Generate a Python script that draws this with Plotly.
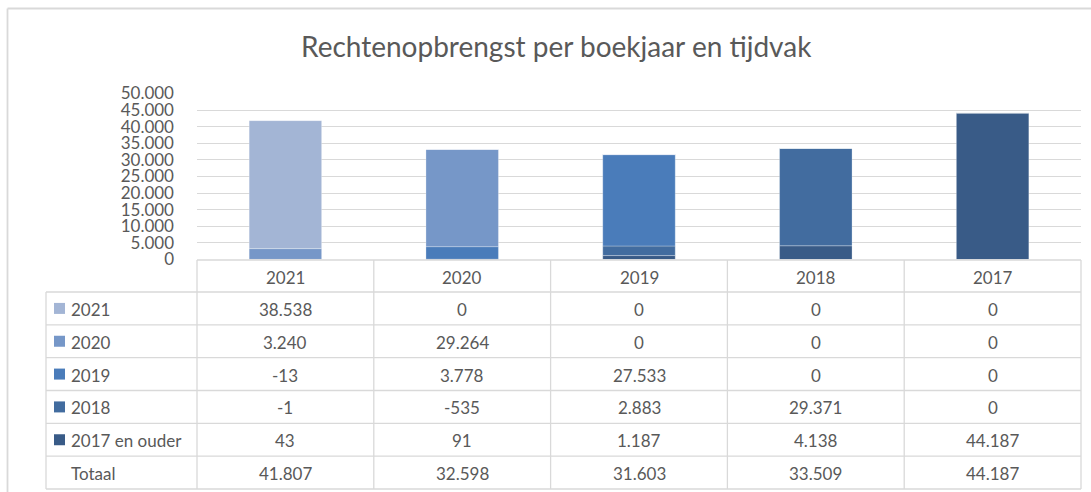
import plotly.graph_objects as go

# ---- data ----
categories = ["2021", "2020", "2019", "2018", "2017"]
series_names = ["2021", "2020", "2019", "2018", "2017 en ouder"]
v_2021 = [38538, 0, 0, 0, 0]
v_2020 = [3240, 29264, 0, 0, 0]
v_2019 = [-13, 3778, 27533, 0, 0]
v_2018 = [-1, -535, 2883, 29371, 0]
v_2017 = [43, 91, 1187, 4138, 44187]
totals = [41807, 32598, 31603, 33509, 44187]
total_label = "Totaal"
title_text = "Rechtenopbrengst per boekjaar en tijdvak"

series_values = [v_2021, v_2020, v_2019, v_2018, v_2017]
colors = ["#A3B5D5", "#7697C8", "#4A7CBA", "#426C9F", "#395B87"]

W, H = 1091, 492
def px(x):
    return x / W
def py(y):
    return 1 - y / H

FONT = "Lato, Calibri, sans-serif"
TXT = "#595959"
GRID = "#D9D9D9"

fig = go.Figure()
# stacking bottom -> top: oldest first
for name, vals, col in reversed(list(zip(series_names, series_values, colors))):
    fig.add_trace(go.Bar(
        x=categories, y=vals, name=name,
        marker=dict(color=col, line=dict(color="rgba(255,255,255,0.35)", width=0.8)),
        showlegend=False,
    ))

x0, x1 = 197, 1081
y_top, y_zero = 93.5, 259.5

fig.update_layout(
    width=W, height=H,
    margin=dict(l=0, r=0, t=0, b=0, pad=0, autoexpand=False),
    paper_bgcolor="white", plot_bgcolor="white",
    barmode="relative", bargap=0.59,
    separators=",.",
    font=dict(family=FONT, color=TXT),
    xaxis=dict(domain=[px(x0), px(x1)], type="category", range=[-0.5, 4.5], automargin=False,
               showticklabels=False, showgrid=False, zeroline=False, showline=False, fixedrange=True),
    yaxis=dict(domain=[py(y_zero), py(y_top)], range=[0, 50000], dtick=5000, tickformat=",d",
               automargin=False,
               showgrid=True, gridcolor=GRID, gridwidth=1.2, zeroline=False, showline=False,
               ticks="", ticklabelstandoff=22, tickfont=dict(size=17, color=TXT, family=FONT)),
)

shapes = []
def line(xa, ya, xb, yb, color=GRID, width=1.3):
    shapes.append(dict(type="line", xref="paper", yref="paper",
                       x0=px(xa), y0=py(ya), x1=px(xb), y1=py(yb),
                       line=dict(color=color, width=width)))

# outer chart border
line(7.5, 8.5, 7.5, H, width=1.8)
line(7.5, 8.5, W, 8.5, width=1.8)

# table geometry
col_w = (x1 - x0) / len(categories)
col_bounds = [x0 + i * col_w for i in range(len(categories) + 1)]
head_top, head_bot = 260, 292
row_h = (489 - 292) / 6
row_bounds = [head_bot + i * row_h for i in range(7)]
left_x = 46

line(x0, head_top, x1, head_top)
for yb in row_bounds:
    line(left_x, yb, x1, yb)
for xb in col_bounds:
    line(xb, head_top, xb, row_bounds[-1])
line(left_x, row_bounds[0], left_x, row_bounds[-1])

annotations = []
annotations.append(dict(text=title_text, xref="paper", yref="paper", x=px(556), y=py(46),
                        xanchor="center", yanchor="middle", showarrow=False,
                        font=dict(size=28, color=TXT, family=FONT)))

def fmt(v):
    return f"{v:,}".replace(",", ".")

tfont = dict(size=17, color=TXT, family=FONT)
for i, c in enumerate(categories):
    annotations.append(dict(text=c, xref="x", yref="paper", x=i, y=py((head_top + head_bot) / 2 + 1),
                            xanchor="center", yanchor="middle", showarrow=False, font=tfont))

rows = [(n, v, col) for n, v, col in zip(series_names, series_values, colors)]
rows.append((total_label, totals, None))
for r, (name, vals, col) in enumerate(rows):
    yc = (row_bounds[r] + row_bounds[r + 1]) / 2
    if col is not None:
        shapes.append(dict(type="rect", xref="paper", yref="paper",
                           x0=px(54), x1=px(65), y0=py(yc - 5.5), y1=py(yc + 5.5),
                           fillcolor=col, line=dict(width=0)))
    annotations.append(dict(text=name, xref="paper", yref="paper", x=px(69), y=py(yc + 1),
                            xanchor="left", yanchor="middle", showarrow=False, font=tfont))
    for i, v in enumerate(vals):
        annotations.append(dict(text=fmt(v), xref="x", yref="paper", x=i, y=py(yc + 1),
                                xanchor="center", yanchor="middle", showarrow=False, font=tfont))

fig.update_layout(shapes=shapes, annotations=annotations)
fig.write_html("out.html", config={"displayModeBar": False},
               post_script="document.body.style.margin='0px';")
